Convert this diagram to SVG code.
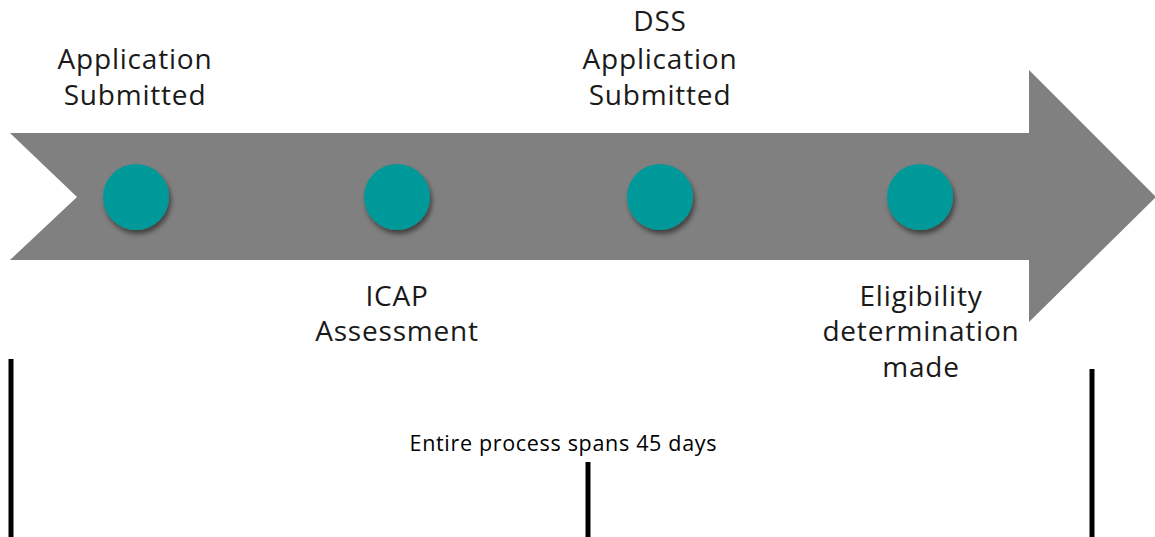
<svg xmlns="http://www.w3.org/2000/svg" width="1155" height="537" viewBox="0 0 1155 537">
<style>
.lbl{font-family:"Open Sans","Noto Sans","DejaVu Sans",sans-serif;font-size:28px;letter-spacing:0.8px;fill:#1a1a1a;text-anchor:middle}
.note{font-family:"Open Sans","Noto Sans",sans-serif;font-size:21.5px;fill:#000;text-anchor:middle}
.dot{fill:#009999;filter:url(#sh)}
.bar{stroke:#000;stroke-width:5}
</style>
<defs>
<filter id="sh" x="-30%" y="-30%" width="160%" height="160%">
<feGaussianBlur in="SourceAlpha" stdDeviation="2.5"/>
<feOffset dx="2" dy="4" result="b"/>
<feComponentTransfer><feFuncA type="linear" slope="0.5"/></feComponentTransfer>
<feMerge><feMergeNode/><feMergeNode in="SourceGraphic"/></feMerge>
</filter>
</defs>
<g id="arrow">
<polygon points="10,133 1029,133 1029,70 1156,197 1029,322 1029,260 10,260 77,197" fill="#808080"/>
</g>
<g id="n1"><circle class="dot" cx="136" cy="197" r="33"/><text class="lbl" x="135" y="69">Application</text><text class="lbl" x="135" y="105">Submitted</text></g>
<g id="n2"><circle class="dot" cx="397" cy="197" r="33"/><text class="lbl" x="397" y="306">ICAP</text><text class="lbl" x="397" y="341">Assessment</text></g>
<g id="n3"><circle class="dot" cx="660" cy="197" r="33"/><text class="lbl" x="660" y="31">DSS</text><text class="lbl" x="660" y="69">Application</text><text class="lbl" x="660" y="105">Submitted</text></g>
<g id="n4"><circle class="dot" cx="920" cy="197" r="33"/><text class="lbl" x="921" y="306">Eligibility</text><text class="lbl" x="921" y="341">determination</text><text class="lbl" x="921" y="377">made</text></g>
<g id="connectors">
<line class="bar" x1="11" y1="359" x2="11" y2="537"/>
<line class="bar" x1="588" y1="462" x2="588" y2="537"/>
<line class="bar" x1="1092" y1="369" x2="1092" y2="537"/>
</g>
<text class="note" x="563" y="451" textLength="307" lengthAdjust="spacing">Entire process spans 45 days</text>
</svg>
